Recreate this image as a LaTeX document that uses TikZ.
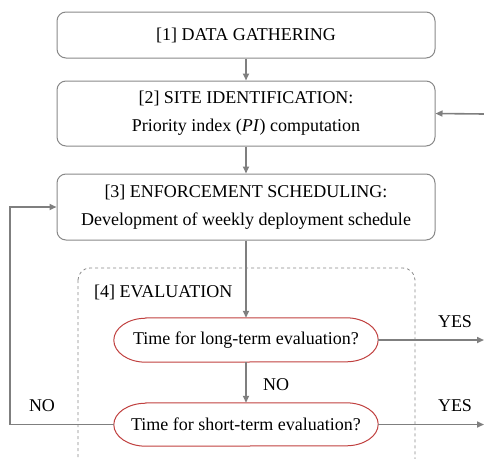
\documentclass[tikz,border=0pt]{standalone}
\usepackage{fontspec}
\setmainfont{Liberation Serif}
\usetikzlibrary{arrows.meta}
\definecolor{lgray}{HTML}{7F7F7F}
\definecolor{bgray}{HTML}{888888}
\definecolor{ered}{HTML}{C0403F}
\begin{document}
\begin{tikzpicture}[x=1pt,y=-1pt,
  every node/.style={font=\fontsize{18}{28}\selectfont},
  stepbox/.style={draw=bgray,line width=1pt,rounded corners=9pt,minimum width=378pt,align=center,inner sep=0pt},
  decision/.style={minimum width=264pt,minimum height=44pt,inner sep=0pt},
  dline/.style={draw=ered,line width=1pt},
  conn/.style={draw=lgray,line width=1.6pt,-{Triangle[length=7pt,width=6pt]}},
  lbl/.style={inner sep=0pt}]
\useasboundingbox (0,0) rectangle (484,458);
\begin{scope}
\clip (0,0) rectangle (484,458);
\draw[bgray,dashed,line width=0.8pt,rounded corners=12pt] (78,268) rectangle (415,480);
\end{scope}
\node[stepbox,minimum height=46pt] (b1) at (246,35) {[1] DATA GATHERING};
\node[stepbox,minimum height=65pt] (b2) at (246,113.5) {[2] SITE IDENTIFICATION:\\Priority index (\textit{PI}) computation};
\node[stepbox,minimum height=66pt] (b3) at (246,207) {[3] ENFORCEMENT SCHEDULING:\\Development of weekly deployment schedule};
\node[lbl,anchor=west] (ev) at (94,292) {[4] EVALUATION};
\node[decision] (e1) at (246,340) {Time for long-term evaluation?};
\node[decision,minimum height=43pt] (e2) at (246,424.5) {Time for short-term evaluation?};
\draw[dline] ([xshift=32pt]e1.north west) -- ([xshift=-32pt]e1.north east)
  arc[start angle=90,end angle=-90,x radius=32pt,y radius=22pt]
  -- ([xshift=32pt]e1.south west)
  arc[start angle=270,end angle=90,x radius=32pt,y radius=22pt] -- cycle;
\draw[dline] ([xshift=32pt]e2.north west) -- ([xshift=-32pt]e2.north east)
  arc[start angle=90,end angle=-90,x radius=32pt,y radius=21.5pt]
  -- ([xshift=32pt]e2.south west)
  arc[start angle=270,end angle=90,x radius=32pt,y radius=21.5pt] -- cycle;
\coordinate (in2) at (484,114);
\coordinate (out1) at (484,340);
\coordinate (out2) at (484,424.5);
\coordinate (lc) at (10,424.5);
\draw[conn] (b1) -- (b2);
\draw[conn] (b2) -- (b3);
\draw[conn] (b3) -- (e1);
\draw[conn] (e1) -- (e2);
\draw[conn] (in2) -- (b2.east);
\draw[conn] (e1.east) -- (out1);
\draw[conn] (e2.east) -- (out2);
\draw[conn] (e2.west) -- (lc) |- (b3.west);
\node[lbl] (y1) at (455,322) {YES};
\node[lbl] (y2) at (455,406) {YES};
\node[lbl] (n1) at (276,385) {NO};
\node[lbl] (n2) at (42,406) {NO};
\end{tikzpicture}
\end{document}
